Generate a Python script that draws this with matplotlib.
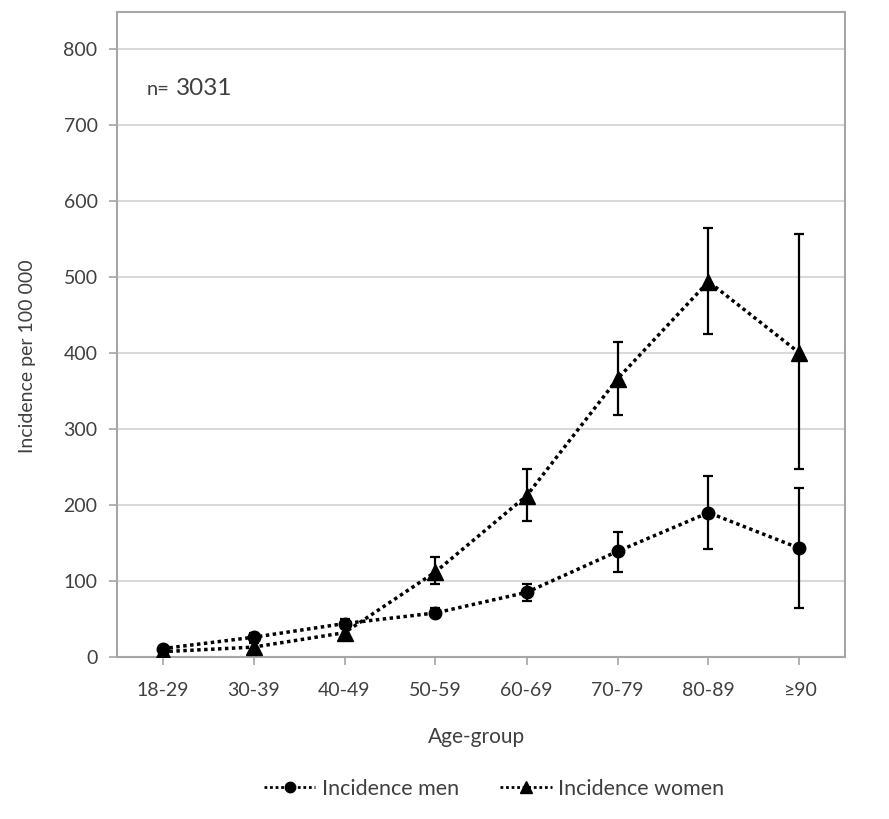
import matplotlib
matplotlib.use("Agg")
import matplotlib.pyplot as plt
from matplotlib.lines import Line2D
import numpy as np

categories = ["18-29", "30-39", "40-49", "50-59", "60-69", "70-79", "80-89", "≥90"]
men = [11, 26, 44, 58, 85, 139, 190, 143]
men_low = [8, 21, 38, 53, 74, 112, 142, 64]
men_high = [15, 31, 50, 64, 96, 165, 238, 222]
women = [7, 13, 32, 112, 212, 366, 494, 400]
women_low = [4, 9, 27, 96, 179, 319, 425, 247]
women_high = [11, 18, 38, 131, 248, 415, 565, 556]
yticks = [0, 100, 200, 300, 400, 500, 600, 700, 800]

plt.rcParams['font.family'] = ['Lato', 'DejaVu Sans']
txt = '#404040'
grid_c = '#d9d9d9'
spine_c = '#a6a6a6'

W, H = 889, 819
fig = plt.figure(figsize=(W/100, H/100), dpi=100)
ax = fig.add_axes([117/W, 1-657/H, (845-117)/W, (657-12)/H])

x = np.arange(len(categories))
men_a = np.array(men); women_a = np.array(women)
men_err = [men_a - np.array(men_low), np.array(men_high) - men_a]
women_err = [women_a - np.array(women_low), np.array(women_high) - women_a]

ax.errorbar(x, men, yerr=men_err, fmt='none', ecolor='black', elinewidth=1.6,
            capsize=3.5, capthick=1.6, zorder=3)
ax.errorbar(x, women, yerr=women_err, fmt='none', ecolor='black', elinewidth=1.6,
            capsize=3.5, capthick=1.6, zorder=3)
ax.plot(x, men, linestyle=(0, (1, 1)), color='black', linewidth=2.5,
        marker='o', markersize=9, zorder=4, label='Incidence men')
ax.plot(x, women, linestyle=(0, (1, 1)), color='black', linewidth=2.5,
        marker='^', markersize=11, zorder=4, label='Incidence women')

ax.set_xlim(-0.5, len(categories) - 0.5)
ax.set_ylim(0, 848.7)
ax.set_yticks(yticks)
ax.set_yticklabels([str(v) for v in yticks])
ax.set_xticks(x)
ax.set_xticklabels(categories)
ax.yaxis.grid(True, color=grid_c, linewidth=1.5)
ax.set_axisbelow(True)

for s in ax.spines.values():
    s.set_color(spine_c)
    s.set_linewidth(1.5)

ax.tick_params(axis='both', colors=spine_c, labelcolor=txt, labelsize=14, length=6, width=1.2)
ax.tick_params(axis='y', pad=8)
ax.tick_params(axis='x', pad=12)

fig.text(477/W, 1-737/H, 'Age-group', fontsize=15, color=txt, ha='center', va='center')
fig.text(28/W, 1-356/H, 'Incidence per 100 000', fontsize=14, color=txt,
         ha='center', va='center', rotation=90)

fig.text(147/W, 1-95/H, 'n=', fontsize=14.5, color=txt, ha='left', va='baseline')
fig.text(176/W, 1-95/H, '3031', fontsize=17.5, color=txt, ha='left', va='baseline')

handles = [Line2D([0], [0], color='black', linestyle=(0, (1, 1)), linewidth=2,
                  marker='o', markersize=7.5),
           Line2D([0], [0], color='black', linestyle=(0, (1, 1)), linewidth=2,
                  marker='^', markersize=8.5)]
fig.legend(handles, ['Incidence men', 'Incidence women'], loc='center',
           bbox_to_anchor=(494/W, 1-789/H), ncol=2, frameon=False,
           fontsize=15.5, labelcolor=txt, handlelength=2.4, columnspacing=1.9,
           handletextpad=0.3)

fig.savefig('out.png', dpi=100)
